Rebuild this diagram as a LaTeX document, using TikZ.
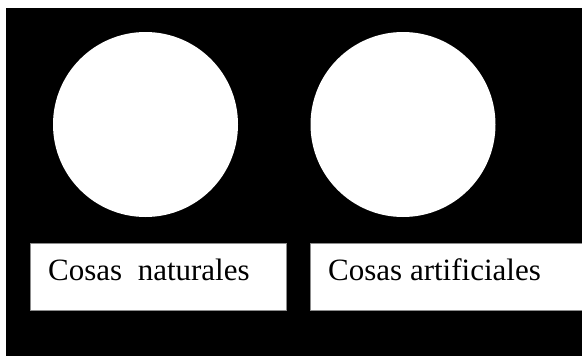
\documentclass[tikz,border=0pt]{standalone}
\usepackage{fontspec}
\setmainfont{Liberation Serif}
\usetikzlibrary{positioning}
\tikzset{
  disc/.style={circle,fill=white,minimum size=185pt,inner sep=0pt},
  card/.style={rectangle,fill=white,draw=black!45,line width=0.4pt,inner sep=0pt,anchor=north west},
  cardtext/.style={anchor=base west,inner sep=0pt,font=\fontsize{31pt}{36pt}\selectfont}
}
\begin{document}
\begin{tikzpicture}[x=1pt,y=-1pt]
\useasboundingbox (0,0) rectangle (582,356);
\fill[black] (6,8) rectangle (582,356);
% circles
\node[disc] (natdisc) at (145.5,124.5) {};
\node[disc] (artdisc) at (403,124.5) {};
% boxes
\node[card,minimum width=256pt,minimum height=67pt] (natbox) at (30,243) {};
\node[card,minimum width=273pt,minimum height=67pt] (artbox) at (310,243) {};
\node[cardtext] (nattext) at (48,280) {Cosas\ \ naturales};
\node[cardtext] (arttext) at (328,280) {Cosas artificiales};
\end{tikzpicture}
\end{document}
